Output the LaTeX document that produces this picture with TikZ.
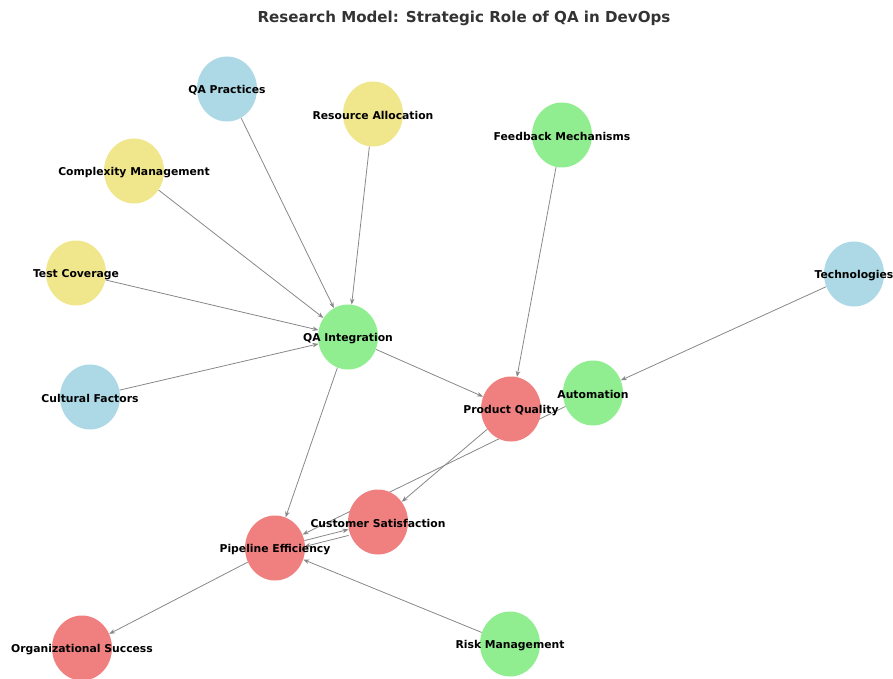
\documentclass[tikz,border=0pt]{standalone}
\usepackage{fontspec}
\setmainfont{DejaVu Sans}
\usetikzlibrary{shapes.geometric,arrows.meta}
\pgfdeclarelayer{bg}
\pgfsetlayers{bg,main}
\definecolor{nblue}{HTML}{ADD8E6}
\definecolor{nyellow}{HTML}{F0E68C}
\definecolor{ngreen}{HTML}{90EE90}
\definecolor{nred}{HTML}{F08080}
\definecolor{egray}{HTML}{888888}
\definecolor{ttl}{HTML}{333333}
\tikzset{
  circ/.style={ellipse, draw=none, minimum width=60pt, minimum height=65pt, inner sep=0pt},
  lbl/.style={font=\fontsize{10.8}{12}\selectfont\bfseries, inner sep=0pt, text=black, yshift=-1.5pt},
  arr/.style={draw=egray, line width=0.8pt, -{Stealth[length=6pt,width=4.5pt]}},
}
\begin{document}
\begin{tikzpicture}[x=1pt,y=-1pt]
\useasboundingbox (0,0) rectangle (893,679);
\node[font=\fontsize{15.1}{17}\selectfont\bfseries, text=ttl] (title) at (464,18) {Research Model: Strategic Role of QA in DevOps};
% circles
\node[circ, fill=nblue] (qap) at (227,89) {};
\node[circ, fill=nyellow] (res) at (373,114) {};
\node[circ, fill=nyellow] (cmp) at (134,171) {};
\node[circ, fill=ngreen] (fbm) at (562,135) {};
\node[circ, fill=nyellow] (tcv) at (76,273) {};
\node[circ, fill=nblue] (tec) at (854,274) {};
\node[circ, fill=ngreen] (qai) at (348,337) {};
\node[circ, fill=nblue] (cul) at (90,397) {};
\node[circ, fill=ngreen] (aut) at (593,393) {};
\node[circ, fill=nred] (pq) at (511,409) {};
\node[circ, fill=nred] (cs) at (378,522) {};
\node[circ, fill=nred] (pe) at (275,548) {};
\node[circ, fill=nred] (os) at (82,648) {};
\node[circ, fill=ngreen] (rm) at (510,644) {};
% edges
\begin{pgfonlayer}{bg}
\draw[arr] (qap) -- (qai);
\draw[arr] (res) -- (qai);
\draw[arr] (cmp) -- (qai);
\draw[arr] (tcv) -- (qai);
\draw[arr] (cul) -- (qai);
\draw[arr] (qai) -- (pq);
\draw[arr] (qai) -- (pe);
\draw[arr] (fbm) -- (pq);
\draw[arr] (tec) -- (aut);
\draw[arr] (pq) -- (cs);
\draw[arr] (aut) -- (pe);
\draw[arr] (pe) -- (cs);
\draw[arr, transform canvas={shift={(0pt,-6pt)}}] (cs) -- (pe);
\draw[arr] (rm) -- (pe);
\draw[arr] (pe) -- (os);
\end{pgfonlayer}
% labels
\node[lbl] (qap-t) at (qap) {QA Practices};
\node[lbl] (res-t) at (res) {Resource Allocation};
\node[lbl] (cmp-t) at (cmp) {Complexity Management};
\node[lbl] (fbm-t) at (fbm) {Feedback Mechanisms};
\node[lbl] (tcv-t) at (tcv) {Test Coverage};
\node[lbl] (tec-t) at (tec) {Technologies};
\node[lbl] (qai-t) at (qai) {QA Integration};
\node[lbl] (cul-t) at (cul) {Cultural Factors};
\node[lbl] (aut-t) at (aut) {Automation};
\node[lbl] (pq-t) at (pq) {Product Quality};
\node[lbl] (cs-t) at (cs) {Customer Satisfaction};
\node[lbl] (pe-t) at (pe) {Pipeline Efficiency};
\node[lbl] (os-t) at (os) {Organizational Success};
\node[lbl] (rm-t) at (rm) {Risk Management};
\end{tikzpicture}
\end{document}
